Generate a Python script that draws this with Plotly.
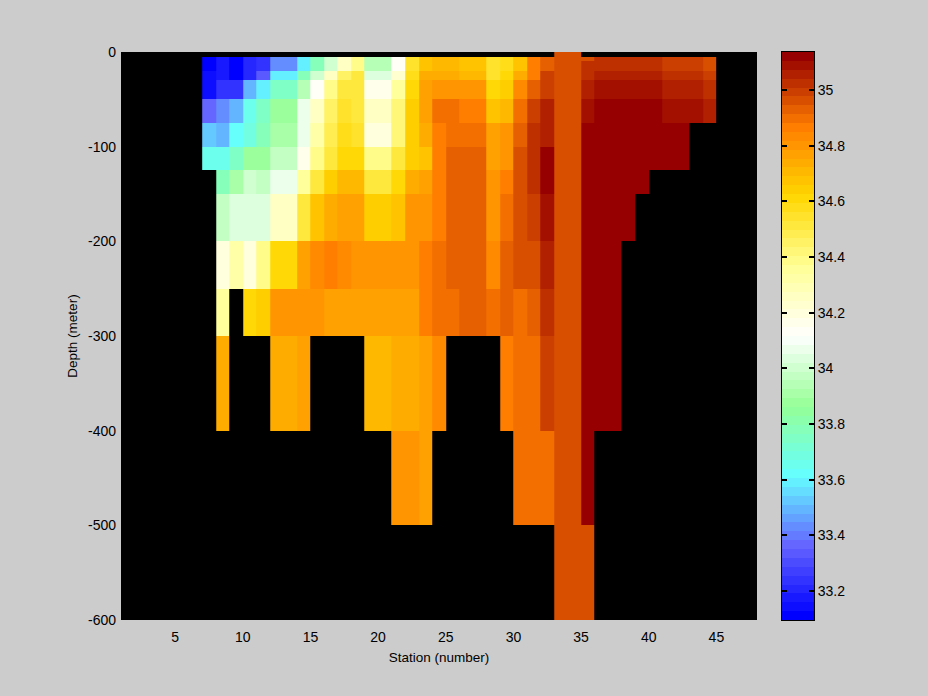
import plotly.graph_objects as go

# Depth edges (m) of the rows and station edges of the columns
depth_edges = [0, 5, 10, 20, 30, 50, 75, 100, 125, 150, 200, 250, 300, 400, 500, 600]
station_edges = list(range(7, 46))
N = None

# Salinity per depth row; each row holds stations 7..44
s_000 = [N]*26 + [34.97, 34.97] + [N]*10
s_005 = [33.10,33.16,33.10,33.20,33.25,33.42,33.42,33.58,33.78,34.00,34.25,34.40,33.93,33.93,34.12,34.55,34.67,34.72,34.72,34.66,34.66,34.55,34.58,34.69,34.85,34.93,34.97,34.97,34.97,35.02,35.02,35.02,35.02,35.02,35.00,35.00,35.00,34.95]
s_010 = [33.10,33.16,33.10,33.20,33.25,33.42,33.42,33.58,33.78,34.00,34.25,34.40,33.93,33.93,34.12,34.55,34.67,34.72,34.72,34.66,34.66,34.55,34.58,34.69,34.85,34.93,34.97,34.97,35.02,35.02,35.02,35.02,35.02,35.02,35.00,35.00,35.00,34.95]
s_020 = [33.13,33.16,33.10,33.22,33.35,33.58,33.58,33.78,34.00,34.25,34.45,34.50,34.03,34.03,34.22,34.58,34.73,34.74,34.74,34.70,34.70,34.56,34.60,34.74,34.88,34.98,34.97,34.97,35.02,35.06,35.06,35.06,35.06,35.06,35.02,35.02,35.02,35.00]
s_030 = [33.14,33.23,33.23,33.50,33.60,33.75,33.75,33.95,34.13,34.40,34.52,34.52,34.15,34.15,34.35,34.62,34.76,34.80,34.80,34.79,34.79,34.60,34.64,34.84,34.93,35.00,34.97,34.97,35.06,35.09,35.09,35.09,35.09,35.09,35.06,35.06,35.06,35.02]
s_050 = [33.36,33.43,33.50,33.66,33.76,33.88,33.88,34.07,34.27,34.45,34.54,34.52,34.25,34.25,34.42,34.63,34.78,34.90,34.90,34.87,34.87,34.66,34.72,34.90,35.00,35.05,34.97,34.97,35.09,35.13,35.13,35.13,35.13,35.13,35.09,35.09,35.09,35.05]
s_075 = [33.54,33.50,33.61,33.68,33.78,33.92,33.92,34.07,34.33,34.47,34.57,34.55,34.20,34.20,34.42,34.63,34.73,34.88,34.91,34.91,34.91,34.76,34.80,34.93,35.03,35.06,34.97,34.97,35.13,35.13,35.13,35.13,35.13,35.13,35.13,35.13,N,N]
s_100 = [33.66,33.66,33.74,33.87,33.87,33.97,33.97,34.15,34.38,34.53,34.62,34.62,34.38,34.38,34.53,34.63,34.68,34.88,34.93,34.93,34.93,34.76,34.80,34.97,35.03,35.11,34.97,34.97,35.13,35.13,35.13,35.13,35.13,35.13,35.13,35.13,N,N]
s_125 = [N,33.78,33.90,34.00,33.97,34.07,34.07,34.35,34.52,34.65,34.72,34.72,34.53,34.53,34.60,34.73,34.76,34.88,34.93,34.93,34.93,34.79,34.88,34.97,35.03,35.11,34.97,34.97,35.13,35.13,35.13,35.13,35.13,N,N,N,N,N]
s_150 = [N,33.97,34.05,34.05,34.05,34.27,34.27,34.53,34.66,34.73,34.76,34.76,34.63,34.63,34.68,34.79,34.79,34.88,34.93,34.93,34.93,34.79,34.89,34.96,35.00,35.10,34.97,34.97,35.13,35.13,35.13,35.13,N,N,N,N,N,N]
s_200 = [N,34.20,34.33,34.20,34.38,34.62,34.62,34.77,34.84,34.88,34.84,34.79,34.79,34.79,34.80,34.80,34.86,34.90,34.93,34.93,34.93,34.84,34.92,34.97,34.97,35.06,34.97,34.97,35.13,35.13,35.13,N,N,N,N,N,N,N]
s_250 = [N,34.37,N,34.62,34.65,34.79,34.79,34.79,34.79,34.76,34.76,34.76,34.76,34.76,34.77,34.77,34.86,34.90,34.90,34.93,34.93,34.90,34.93,34.90,34.93,35.02,34.97,34.97,35.13,35.13,35.13,N,N,N,N,N,N,N]
s_300 = [N,34.73,N,N,N,34.73,34.73,34.76,N,N,N,N,34.70,34.70,34.73,34.73,34.76,34.84,N,N,N,N,34.87,34.90,34.90,35.00,34.97,34.97,35.13,35.13,35.13,N,N,N,N,N,N,N]
s_400 = [N]*14 + [34.79,34.79,34.76] + [N]*6 + [34.90,34.90,34.90,34.97,34.97,35.13] + [N]*9
s_500 = [N]*26 + [34.97,34.97,34.97] + [N]*9
salinity = [s_000,s_005,s_010,s_020,s_030,s_050,s_075,s_100,s_125,s_150,s_200,s_250,s_300,s_400,s_500]

x_ticks = [5,10,15,20,25,30,35,40,45]
y_ticks = [0,-100,-200,-300,-400,-500,-600]
y_labels = ["0","-100","-200","-300","-400","-500","-600"]
cb_ticks = [33.2,33.4,33.6,33.8,34,34.2,34.4,34.6,34.8,35]
cb_labels = ["33.2","33.4","33.6","33.8","34","34.2","34.4","34.6","34.8","35"]
S_MIN, S_MAX = 33.096, 35.137

# 64-step colour map through these anchors, evenly spaced
anchors = [(0,0,255),(100,100,255),(100,255,255),(150,255,150),(255,255,255),
           (255,255,150),(255,215,0),(255,125,0),(150,0,0)]
LEVELS = 64
def level_colour(k):
    t = k/(LEVELS-1)*(len(anchors)-1)
    i = min(int(t), len(anchors)-2)
    f = t-i
    r,g,b = [round(a+(c-a)*f) for a,c in zip(anchors[i],anchors[i+1])]
    return f"rgb({r},{g},{b})"
colorscale = []
for k in range(LEVELS):
    colorscale += [[k/LEVELS, level_colour(k)], [(k+1)/LEVELS, level_colour(k)]]

tick_font = dict(family="Liberation Sans", size=14, color="black")
title_font = dict(family="Liberation Sans", size=13.5, color="black")
W, H = 928, 696
fig = go.Figure()
fig.add_trace(go.Heatmap(x=station_edges, y=[-d for d in depth_edges], z=salinity,
                         colorscale=colorscale, zmin=S_MIN, zmax=S_MAX, showscale=False,
                         hoverongaps=False))
step = (S_MAX-S_MIN)/LEVELS
cb_edges = [S_MIN+k*step for k in range(LEVELS+1)]
fig.add_trace(go.Heatmap(x=[0,1], y=cb_edges, z=[[S_MIN+(k+.5)*step] for k in range(LEVELS)],
                         colorscale=colorscale, zmin=S_MIN, zmax=S_MAX, showscale=False,
                         xaxis="x2", yaxis="y2", hoverinfo="y"))
fig.update_layout(
    width=W, height=H, margin=dict(l=0,r=0,t=0,b=0), autosize=False,
    paper_bgcolor="rgb(204,204,204)", plot_bgcolor="black", font=tick_font, showlegend=False,
    xaxis=dict(domain=[121/W,757/W], range=[1,48], tickvals=x_ticks, ticks="", showgrid=False,
               zeroline=False, showline=False, ticklabelstandoff=7, automargin=False, tickfont=tick_font,
               title=dict(text="Station (number)", font=title_font, standoff=8)),
    yaxis=dict(domain=[(H-620)/H,(H-52)/H], range=[-600,0], tickvals=y_ticks, ticktext=y_labels,
               ticks="", showgrid=False, zeroline=False, showline=False, ticklabelstandoff=4, automargin=False,
               tickfont=tick_font, title=dict(text="Depth (meter)", font=title_font, standoff=7)),
    xaxis2=dict(domain=[782/W,814/W], range=[0,1], showticklabels=False, ticks="", showgrid=False,
                zeroline=False, showline=True, linecolor="black", linewidth=1, mirror=True, anchor="y2", automargin=False),
    yaxis2=dict(domain=[(H-620)/H,(H-52)/H], range=[S_MIN,S_MAX], side="right", anchor="x2", automargin=False,
                tickvals=cb_ticks, ticktext=cb_labels, ticks="inside", ticklen=5, tickwidth=1.5, tickcolor="black", tickfont=tick_font,
                layer="above traces", showgrid=False, zeroline=False, showline=True, linecolor="black", linewidth=1, mirror="allticks"),
)
fig.write_html("out.html", post_script="document.body.style.margin='0';", config=dict(displayModeBar=False))
